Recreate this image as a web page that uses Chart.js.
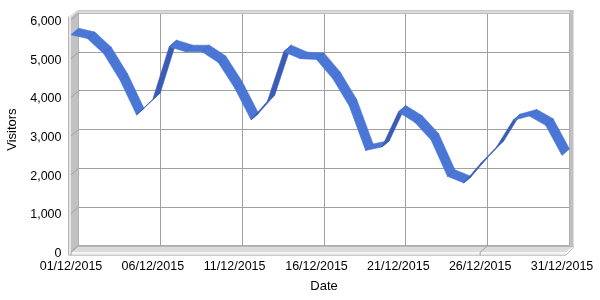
<!DOCTYPE html>
<html><head><meta charset="utf-8">
<script src="https://cdn.jsdelivr.net/npm/chart.js@4.4.0/dist/chart.umd.min.js"></script>
<style>html,body{margin:0;padding:0;background:#fff}</style>
</head><body>
<canvas id="c" width="600" height="300"></canvas>
<script>
const dates = ['01/12/2015','02/12/2015','03/12/2015','04/12/2015','05/12/2015','06/12/2015','07/12/2015','08/12/2015','09/12/2015','10/12/2015',
  '11/12/2015','12/12/2015','13/12/2015','14/12/2015','15/12/2015','16/12/2015','17/12/2015','18/12/2015','19/12/2015','20/12/2015',
  '21/12/2015','22/12/2015','23/12/2015','24/12/2015','25/12/2015','26/12/2015','27/12/2015','28/12/2015','29/12/2015','30/12/2015','31/12/2015'];
const visitors = [5620, 5520, 5130, 4440, 3550, 3950, 5310, 5180, 5180, 4900,
  4240, 3420, 3900, 5180, 5000, 4980, 4480, 3780, 2630, 2720,
  3620, 3360, 2900, 1960, 1790, 2280, 2720, 3400, 3520, 3280, 2500];
const yMin = 0, yMax = 6000, yStep = 1000;
const labelEvery = 5;

const DX = 7.5, DY = 6.5;
const FONT = 'Liberation Sans, Arial, sans-serif';

const scene3d = {
  id: 'scene3d',
  beforeDatasetsDraw(chart) {
    const {ctx, chartArea: ca, scales} = chart;
    const xs = scales.x, ys = scales.y;
    ctx.save();
    ctx.fillStyle = '#DADADA';
    ctx.fillRect(ca.left - 1, ca.top - 3.5, ca.right - ca.left + 5, 3.5);
    ctx.strokeStyle = '#C8C8C8'; ctx.lineWidth = 1;
    ctx.beginPath(); ctx.moveTo(ca.left - 1, ca.top - 3); ctx.lineTo(ca.right + 4, ca.top - 3); ctx.stroke();
    ctx.fillStyle = '#C0C0C0';
    ctx.fillRect(ca.right, ca.top - 3.5, 4, ca.bottom - ca.top + 5);
    ctx.fillStyle = '#C2C2C2';
    ctx.beginPath();
    ctx.moveTo(ca.left, ca.top - 3.5); ctx.lineTo(ca.left, ca.bottom);
    ctx.lineTo(ca.left - DX, ca.bottom + DY); ctx.lineTo(ca.left - DX, ca.top + DY - 3.5);
    ctx.closePath(); ctx.fill();
    ctx.fillStyle = '#E2E2E2';
    ctx.beginPath();
    ctx.moveTo(ca.left - DX - 2, ca.top + DY - 3.5); ctx.lineTo(ca.left - 2, ca.top - 3.5);
    ctx.lineTo(ca.left + 1, ca.top - 3.5); ctx.lineTo(ca.left - DX + 1, ca.top + DY - 3.5);
    ctx.closePath(); ctx.fill();
    ctx.fillStyle = '#E6E6E6';
    ctx.fillRect(ca.left - DX - 2, ca.top + DY - 3.5, 2, ca.bottom - ca.top + 3.5);
    ctx.strokeStyle = '#B4B4B4';
    ctx.beginPath(); ctx.moveTo(ca.left - DX - 2.5, ca.top + DY - 3.5); ctx.lineTo(ca.left - DX - 2.5, ca.bottom + DY + 3); ctx.stroke();
    ctx.fillStyle = '#DCDCDC';
    ctx.beginPath();
    ctx.moveTo(ca.left, ca.bottom); ctx.lineTo(ca.right + 4, ca.bottom);
    ctx.lineTo(ca.right + 4 - DX, ca.bottom + DY); ctx.lineTo(ca.left - DX, ca.bottom + DY);
    ctx.closePath(); ctx.fill();
    ctx.fillStyle = '#F4F4F4';
    ctx.fillRect(ca.left - DX - 2, ca.bottom + DY, ca.right - ca.left + 6, 2.5);
    ctx.strokeStyle = '#B4B4B4';
    ctx.beginPath();
    ctx.moveTo(ca.left - DX - 2.5, ca.bottom + DY + 3); ctx.lineTo(ca.right + 4 - DX, ca.bottom + DY + 3);
    ctx.lineTo(ca.right + 4, ca.bottom + 1.5); ctx.stroke();
    ctx.strokeStyle = '#A8A8A8';
    ctx.beginPath(); ctx.moveTo(ca.left, ca.bottom + 0.5); ctx.lineTo(ca.right + 4, ca.bottom + 0.5); ctx.stroke();
    ctx.strokeStyle = '#A0A0A0';
    ys.ticks.forEach(t => {
      const py = ys.getPixelForValue(t.value);
      ctx.beginPath(); ctx.moveTo(ca.left, py); ctx.lineTo(ca.left - DX, py + DY); ctx.stroke();
    });
    xs.ticks.forEach((t, i) => {
      if (i % labelEvery !== 0) return;
      const px = xs.getPixelForTick(i);
      ctx.beginPath(); ctx.moveTo(px, ca.bottom); ctx.lineTo(px - DX, ca.bottom + DY); ctx.lineTo(px - DX, ca.bottom + DY + 3); ctx.stroke();
    });
    ctx.restore();
  },
  afterDatasetsDraw(chart) {
    const {ctx} = chart;
    const pts = chart.getDatasetMeta(0).data;
    ctx.save();
    for (let i = 0; i < pts.length - 1; i++) {
      const b0 = pts[i], b1 = pts[i + 1];
      const f0 = {x: b0.x - DX, y: b0.y + DY}, f1 = {x: b1.x - DX, y: b1.y + DY};
      const ex = f1.x - f0.x, ey = f1.y - f0.y;
      const cross = ex * (-DY) - ey * DX;
      const col = cross < 0 ? '#4A76D6' : '#3B5CB6';
      ctx.fillStyle = col;
      ctx.beginPath();
      ctx.moveTo(f0.x, f0.y); ctx.lineTo(f1.x, f1.y); ctx.lineTo(b1.x, b1.y); ctx.lineTo(b0.x, b0.y);
      ctx.closePath(); ctx.fill();
      ctx.strokeStyle = col;
      ctx.lineWidth = 0.6; ctx.stroke();
      if (i > 0) {
        ctx.strokeStyle = '#3E63C0'; ctx.lineWidth = 0.8;
        ctx.beginPath(); ctx.moveTo(f0.x, f0.y); ctx.lineTo(b0.x, b0.y); ctx.stroke();
      }
    }
    ctx.restore();
  }
};

new Chart(document.getElementById('c'), {
  type: 'line',
  data: {
    labels: dates,
    datasets: [{ label: 'Visitors', data: visitors, showLine: false, pointRadius: 0, borderColor: '#4A76D6' }]
  },
  options: {
    responsive: false,
    animation: false,
    devicePixelRatio: 1,
    layout: { padding: { top: 13.5, right: 30.5, left: 0, bottom: 0 } },
    plugins: { legend: { display: false }, tooltip: { enabled: false } },
    scales: {
      x: {
        type: 'category',
        offset: false,
        grid: { color: '#A0A0A0', drawTicks: false, lineWidth: 1 },
        border: { color: '#A0A0A0' },
        ticks: {
          autoSkip: false, maxRotation: 0, padding: 13.5, labelOffset: -DX,
          color: '#000', font: { family: FONT, size: 12.5 },
          callback: (v, i) => (i % labelEvery === 0 ? dates[i] : null)
        },
        title: { display: true, text: 'Date', color: '#000', font: { family: FONT, size: 13 }, padding: { top: 0, bottom: 6 } },
        afterFit: s => { s.height = 54.3; s.paddingLeft = 0; s.paddingRight = 0; }
      },
      y: {
        min: yMin, max: yMax,
        grid: { color: '#A0A0A0', drawTicks: false, lineWidth: 1 },
        border: { color: '#A0A0A0' },
        ticks: {
          stepSize: yStep, padding: 17, labelOffset: DY + 1.5,
          color: '#000', font: { family: FONT, size: 12.5 },
          callback: v => Number(v).toLocaleString('en-US')
        },
        title: { display: true, text: 'Visitors', color: '#000', font: { family: FONT, size: 13 }, padding: { top: 5, bottom: 0 } },
        afterFit: s => { s.width = 78.5; s.paddingTop = 0; s.paddingBottom = 0; }
      }
    }
  },
  plugins: [scene3d]
});
</script>
</body></html>
